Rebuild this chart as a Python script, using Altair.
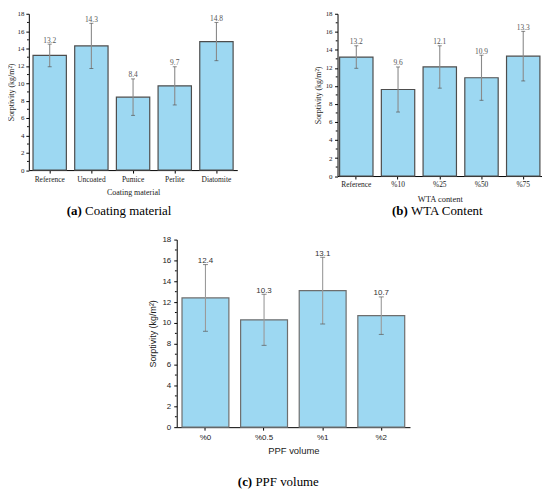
import altair as alt
import pandas as pd

# ---- data ----
coating_cats = ["Reference", "Uncoated", "Pumice", "Perlite", "Diatomite"]
coating_mean = [13.2, 14.3, 8.4, 9.7, 14.8]
coating_err = [1.3, 2.6, 2.1, 2.2, 2.2]

wta_cats = ["Reference", "%10", "%25", "%50", "%75"]
wta_mean = [13.2, 9.6, 12.1, 10.9, 13.3]
wta_err = [1.25, 2.5, 2.35, 2.5, 2.75]

ppf_cats = ["%0", "%0.5", "%1", "%2"]
ppf_mean = [12.4, 10.3, 13.1, 10.7]
ppf_err = [3.2, 2.45, 3.2, 1.8]

y_major = [0, 2, 4, 6, 8, 10, 12, 14, 16, 18]
y_minor = [1, 3, 5, 7, 9, 11, 13, 15, 17]

FILL = "#9dd8f2"
SERIF = "Liberation Serif"
SANS = "Liberation Sans"


def panel(cats, means, errs, width, height, xtitle, font, s, pad_outer,
          bar_stroke, err_color, val_color, label_color, cap, cap_x, cap_y, cap_gap):
    df = pd.DataFrame({
        "cat": cats,
        "mean": means,
        "lo": [m - e for m, e in zip(means, errs)],
        "hi": [m + e for m, e in zip(means, errs)],
    })
    yscale = alt.Scale(domain=[0, 18], nice=False, zero=True)
    yaxis = alt.Axis(title="Sorptivity (kg/m²)", values=y_major,
                     labelFont=font, labelFontSize=s["yl"],
                     titleFont=font, titleFontSize=s["yt"],
                     titleFontWeight="normal", labelColor=label_color,
                     titleColor=label_color, tickSize=3,
                     labelPadding=s["ylp"], titlePadding=s["ytp"],
                     domainColor="#000000", tickColor="#000000",
                     grid=False, labelOverlap=False)

    def Y(field):
        return alt.Y(field, scale=yscale, axis=yaxis)

    xenc = alt.X("cat:N", sort=cats,
                 scale=alt.Scale(paddingInner=0.2, paddingOuter=pad_outer),
                 axis=alt.Axis(title=xtitle, labelAngle=0, labelFont=font,
                               labelFontSize=s["xl"], titleFont=font,
                               titleFontSize=s["xt"], titleFontWeight="normal",
                               labelColor=label_color, titleColor=label_color,
                               tickSize=3, labelPadding=s["xlp"],
                               titlePadding=s["xtp"], domainColor="#000000",
                               tickColor="#000000", grid=False,
                               labelOverlap=False))
    base = alt.Chart(df).encode(x=xenc)
    bars = base.mark_bar(fill=FILL, stroke=bar_stroke, strokeWidth=1.2).encode(
        y=Y("mean:Q"))
    rule = base.mark_rule(color=err_color, strokeWidth=1.1).encode(
        y=Y("lo:Q"), y2="hi:Q")
    cap_hi = base.mark_tick(color="#555555", size=s["cap"], thickness=1).encode(
        y=Y("hi:Q"))
    cap_lo = base.mark_tick(color="#555555", size=s["cap"], thickness=1).encode(
        y=Y("lo:Q"))
    vals = base.mark_text(font=font, fontSize=s["v"], color=val_color,
                          baseline="bottom", dy=0.5).encode(
        y=Y("hi:Q"), text=alt.Text("mean:Q", format=".1f"))
    minor = alt.Chart(pd.DataFrame({"v": y_minor})).mark_rule(
        color="#000000", strokeWidth=1).encode(
        x=alt.value(-1.8), x2=alt.value(0), y=Y("v:Q"))
    capdf = pd.DataFrame({"t": [0]})
    cap1 = alt.Chart(capdf).mark_text(
        text=cap[0], font=SERIF, fontSize=13, fontWeight="bold", align="right",
        baseline="middle", color="#000000").encode(
        x=alt.value(cap_x), y=alt.value(cap_y))
    cap2 = alt.Chart(capdf).mark_text(
        text=cap[1], font=SERIF, fontSize=13, align="left",
        baseline="middle", color="#000000").encode(
        x=alt.value(cap_x + cap_gap), y=alt.value(cap_y))
    return alt.layer(bars, rule, cap_hi, cap_lo, vals, minor, cap1, cap2).properties(
        width=width, height=height)


sa = dict(xl=7.5, xt=8, yl=7, yt=8, v=7.5, cap=4, xlp=2, xtp=6, ylp=2, ytp=1)
sb = dict(xl=7.5, xt=8.5, yl=7, yt=8, v=7.5, cap=4, xlp=2, xtp=6, ylp=2.5, ytp=3)
sc = dict(xl=8, xt=9.5, yl=8, yt=9, v=8, cap=5, xlp=3, xtp=5, ylp=3, ytp=4)

a = panel(coating_cats, coating_mean, coating_err, 210, 157.5, "Coating material",
          SERIF, sa, 0.1, "#4d4d4d", "#8a8a8a", "#555555", "#222222",
          ("(a)", "Coating material"), 53.4, 198.5, 3.3)
b = panel(wta_cats, wta_mean, wta_err, 206, 163.5, "WTA content",
          SERIF, sb, 0.05, "#4d4d4d", "#8a8a8a", "#555555", "#222222",
          ("(b)", "WTA Content"), 70.7, 198.5, 3.3)
c = panel(ppf_cats, ppf_mean, ppf_err, 235, 189, "PPF volume",
          SANS, sc, 0.09, "#6e6e6e", "#9a9a9a", "#333333", "#222222",
          ("(c)", "PPF volume"), 76, 244, 3.3)

spacer = alt.Chart(pd.DataFrame({"s": [0]})).mark_point(opacity=0).encode(
    x=alt.value(10), y=alt.value(5)).properties(width=111, height=10)

top = alt.hconcat(a, b, spacing=77)
bottom = alt.hconcat(spacer, c, spacing=10)

chart = alt.vconcat(top, bottom, spacing=17.5).properties(
    padding=0
).configure(background="#ffffff").configure_view(stroke=None)

chart.save("out.html", embed_options={"renderer": "svg", "actions": False})
